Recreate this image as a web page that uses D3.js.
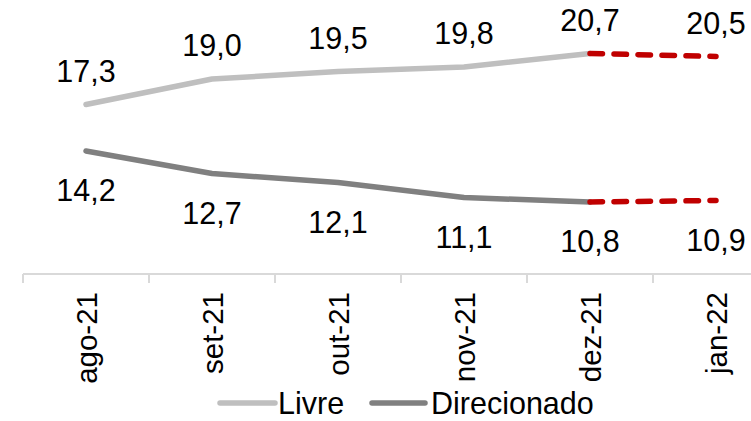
<!DOCTYPE html>
<html>
<head>
<meta charset="utf-8">
<script src="https://cdn.jsdelivr.net/npm/d3@7"></script>
<style>
  html, body { margin: 0; padding: 0; background: #ffffff; }
  svg { display: block; }
  text { font-family: Arial, "Liberation Sans", sans-serif; fill: #000; }
</style>
</head>
<body>
<svg id="chart" width="751" height="421"></svg>
<script>
const categories = ["ago-21", "set-21", "out-21", "nov-21", "dez-21", "jan-22"];
const livre = [17.3, 19.0, 19.5, 19.8, 20.7, 20.5];
const direcionado = [14.2, 12.7, 12.1, 11.1, 10.8, 10.9];
const seriesNames = ["Livre", "Direcionado"];
const seriesColors = ["#BFBFBF", "#808080"];
const projectionColor = "#C00000";
const yDomain = [6, 22];

const svg = d3.select("#chart");
const W = 751, H = 421;
const fontSize = 30.5;

const x = d3.scaleBand().domain(categories).range([23, 779]).paddingInner(0).paddingOuter(0);
const y = d3.scaleLinear().domain(yDomain).range([274, 34]);
const cx = c => x(c) + x.bandwidth() / 2;

const locale = d3.formatLocale({ decimal: ",", thousands: ".", grouping: [3], currency: ["R$", ""] });
const fmt = locale.format(".1f");

// x axis line and boundary ticks
const axisY = y(yDomain[0]);
const axisG = svg.append("g");
axisG.append("line")
  .attr("x1", x(categories[0])).attr("x2", W)
  .attr("y1", axisY).attr("y2", axisY)
  .attr("stroke", "#D9D9D9").attr("stroke-width", 2);
axisG.selectAll("line.tick")
  .data(categories)
  .join("line")
  .attr("class", "tick")
  .attr("x1", d => x(d)).attr("x2", d => x(d))
  .attr("y1", axisY).attr("y2", axisY + 9)
  .attr("stroke", "#D9D9D9").attr("stroke-width", 2);

// tick labels, rotated
axisG.selectAll("text.cat")
  .data(categories)
  .join("text")
  .attr("class", "cat")
  .attr("transform", d => `translate(${cx(d)},${axisY + 18}) rotate(-90)`)
  .attr("text-anchor", "end")
  .attr("dy", "0.37em")
  .style("font-size", "29.5px")
  .text(d => d);

const seriesData = [livre, direcionado];
const lineGen = d3.line().x(d => cx(d.c)).y(d => y(d.v));

seriesData.forEach((vals, si) => {
  const pts = vals.map((v, i) => ({ c: categories[i], v }));
  // solid part (all but last)
  svg.append("path")
    .datum(pts.slice(0, pts.length - 1))
    .attr("d", lineGen)
    .attr("fill", "none")
    .attr("stroke", seriesColors[si])
    .attr("stroke-width", 5.5)
    .attr("stroke-linecap", "round")
    .attr("stroke-linejoin", "round");
  // projected dashed part
  svg.append("path")
    .datum(pts.slice(pts.length - 2))
    .attr("d", lineGen)
    .attr("fill", "none")
    .attr("stroke", projectionColor)
    .attr("stroke-width", 5.5)
    .attr("stroke-linecap", "round")
    .attr("stroke-dasharray", "12.5 11.5");
  // labels
  svg.selectAll(null)
    .data(pts)
    .join("text")
    .attr("x", d => cx(d.c))
    .attr("y", d => si === 0 ? y(d.v) - 23 : y(d.v) + 50)
    .attr("text-anchor", "middle")
    .style("font-size", fontSize + "px")
    .text(d => fmt(d.v));
});

// legend
const legend = svg.append("g");
const legendItems = [
  { name: seriesNames[0], color: seriesColors[0], x1: 220, x2: 275, tx: 278 },
  { name: seriesNames[1], color: seriesColors[1], x1: 372, x2: 425, tx: 431 }
];
legendItems.forEach(it => {
  legend.append("line")
    .attr("x1", it.x1).attr("x2", it.x2)
    .attr("y1", 403).attr("y2", 403)
    .attr("stroke", it.color).attr("stroke-width", 5.5)
    .attr("stroke-linecap", "round");
  legend.append("text")
    .attr("x", it.tx).attr("y", 414)
    .style("font-size", "30.5px")
    .text(it.name);
});
</script>
</body>
</html>
